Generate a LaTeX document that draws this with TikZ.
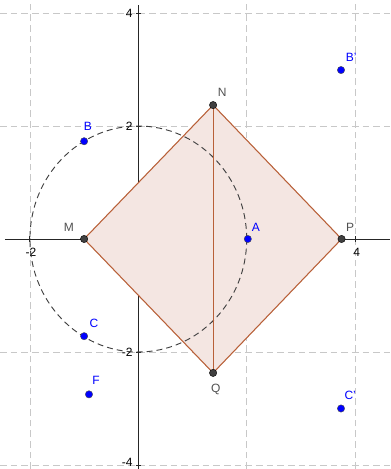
\documentclass[tikz,border=0pt]{standalone}
\usepackage{fontspec}
\setmainfont{Liberation Sans}
\definecolor{edge}{RGB}{184,96,56}
\definecolor{sqfill}{RGB}{244,230,226}
\definecolor{gridc}{RGB}{200,200,200}
\definecolor{ptblue}{RGB}{0,0,255}
\definecolor{ptgray}{RGB}{64,64,64}
\definecolor{lblgray}{RGB}{80,80,80}
\tikzset{
  gridline/.style={gridc, dash pattern=on 5pt off 3pt, line width=0.6pt},
  axisline/.style={black!85, line width=0.7pt},
  bluept/.style={circle, fill=ptblue, draw=black!70, line width=0.3pt, inner sep=0pt, minimum size=5.5pt},
  graypt/.style={circle, fill=ptgray, draw=black, line width=0.3pt, inner sep=0pt, minimum size=5.5pt},
  bluelbl/.style={text=ptblue, inner sep=0pt},
  graylbl/.style={text=lblgray, inner sep=0pt},
  ticklbl/.style={text=black, inner sep=0pt},
  sqedge/.style={edge, line width=0.8pt}
}
\begin{document}
\begin{tikzpicture}[x=40.65pt, y=42.375pt, font=\fontsize{9}{10}\selectfont]
\useasboundingbox (-2.552,-4.071) rectangle (4.644,4.230);
% grid
\foreach \gx in {-2,2,4} \draw[gridline] (\gx,-4.071) -- (\gx,4.230);
\foreach \gy in {-4,-2,2,4} \draw[gridline] (-2.552,\gy) -- (4.644,\gy);
% axes
\coordinate (xl) at (-2.46,0);
\coordinate (xr) at (4.644,0);
\coordinate (yb) at (0,-4.071);
\coordinate (yt) at (0,4.14);
\draw[axisline] (xl) -- (xr);
\draw[axisline] (yb) -- (yt);
\foreach \gx in {-2,2,4} \draw[axisline] (\gx,-0.045) -- (\gx,0.045);
\foreach \gy in {-4,-2,2,4} \draw[axisline] (-0.05,\gy) -- (0.05,\gy);
% tick labels
\node[ticklbl] (tx1) at (-1.98,-0.23) {-2};
\node[ticklbl] (tx2) at (2.0,-0.23) {2};
\node[ticklbl] (tx3) at (4.03,-0.23) {4};
\node[ticklbl, anchor=east] (ty1) at (-0.1,4.0) {4};
\node[ticklbl, anchor=east] (ty2) at (-0.1,2.0) {2};
\node[ticklbl, anchor=east] (ty3) at (-0.1,-2.0) {-2};
\node[ticklbl, anchor=east] (ty4) at (-0.1,-3.96) {-4};
\node[ticklbl] (o1) at (0.16,-0.22) {0};
\node[ticklbl] (o2) at (-0.21,0.13) {0};
% points coordinates
\coordinate (cM) at (-1,0);
\coordinate (cN) at (1.38,2.37);
\coordinate (cP) at (3.75,0);
\coordinate (cQ) at (1.38,-2.37);
% square
\fill[sqfill] (cM) -- (cN) -- (cP) -- (cQ) -- cycle;
% circle
\draw[black!75, dash pattern=on 4.5pt off 3pt, line width=0.7pt] (0,0) ellipse [x radius=2, y radius=2];
\draw[sqedge] (cM) -- (cN) -- (cP) -- (cQ) -- cycle;
\draw[sqedge] (cN) -- (cQ);
% points
\node[graypt] (M) at (cM) {};
\node[graypt] (N) at (cN) {};
\node[graypt] (P) at (cP) {};
\node[graypt] (Q) at (cQ) {};
\node[bluept] (A) at (2.02,0) {};
\node[bluept] (B) at (-1,1.73) {};
\node[bluept] (C) at (-1,-1.72) {};
\node[bluept] (F) at (-0.91,-2.75) {};
\node[bluept] (Bp) at (3.74,2.99) {};
\node[bluept] (Cp) at (3.74,-3.0) {};
% labels
\node[graylbl] (lM) at (-1.28,0.2) {M};
\node[graylbl] (lN) at (1.55,2.6) {N};
\node[graylbl] (lP) at (3.91,0.2) {P};
\node[graylbl] (lQ) at (1.43,-2.66) {Q};
\node[bluelbl] (lA) at (2.17,0.21) {A};
\node[bluelbl] (lB) at (-0.93,2.0) {B};
\node[bluelbl] (lC) at (-0.82,-1.5) {C};
\node[bluelbl] (lF) at (-0.78,-2.51) {F};
\node[bluelbl] (lBp) at (3.93,3.22) {B'};
\node[bluelbl] (lCp) at (3.91,-2.76) {C'};
\end{tikzpicture}
\end{document}
